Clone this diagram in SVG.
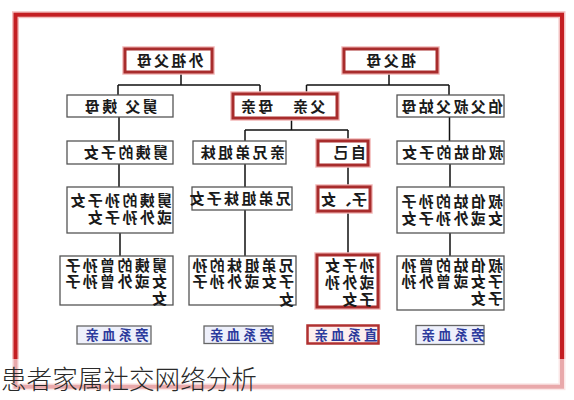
<svg xmlns="http://www.w3.org/2000/svg" width="574" height="400" viewBox="0 0 574 400">
<style>
.bx{fill:#fff;stroke:#555;stroke-width:1.3}
.rb{fill:#fff;stroke:#a82c2c;stroke-width:3}
.halo{fill:none;stroke:#f2b8b8;stroke-width:5.5}
.t{font-family:"Noto Sans CJK SC","Noto Sans CJK TC",sans-serif;font-size:15px;font-weight:bold;fill:#1a1a1a;letter-spacing:2.3px}
.c{text-anchor:middle}
.lb{fill:#eef0fb;stroke:#666;stroke-width:1.3}
.lt{font-family:"Noto Sans CJK SC",sans-serif;font-size:13.5px;font-weight:bold;fill:#2c3a9c;letter-spacing:3px;text-anchor:middle}
.ln{fill:none;stroke:#111;stroke-width:1.5}
</style>
<rect width="574" height="400" fill="#fff"/>
<rect x="15.5" y="14.7" width="546.5" height="372" fill="none" stroke="#f3c0c0" stroke-width="7"/>
<rect x="15.5" y="14.7" width="546.5" height="372" fill="none" stroke="#c41e22" stroke-width="4"/>

<g id="connectors">
<path class="ln" d="M181,72V85M118,85H260M118,85V95M260,85V94"/>
<path class="ln" d="M389,72V85M306.5,85H449M306.5,85V94M449,85V95"/>
<path class="ln" d="M291.5,118V130M245,130H348M245,130V141M348,130V141"/>
<path class="ln" d="M119,117V141M119,164V187M120,233V256"/>
<path class="ln" d="M245,164V187M245,210V256"/>
<path class="ln" d="M348,165V187M348,211V255"/>
<path class="ln" d="M449.5,117V141M450,164V187M450,233V256"/>
</g>

<g id="n-waizufumu">
<rect class="halo" x="125" y="49" width="87" height="23"/>
<rect class="rb" x="125" y="49" width="87" height="23"/>
<text class="t c" transform="translate(169,66.3) scale(-1,1)">外祖父母</text>
</g>
<g id="n-zufumu">
<rect class="halo" x="344" y="49" width="93" height="23"/>
<rect class="rb" x="344" y="49" width="93" height="23"/>
<text class="t c" transform="translate(390,66.3) scale(-1,1)">祖父母</text>
</g>

<g id="n-jiufu-yimu">
<rect class="bx" x="67" y="95" width="106" height="22"/>
<text class="t c" transform="translate(120,112) scale(-1,1)">舅父 姨母</text>
</g>
<g id="n-fuqin-muqin">
<rect class="halo" x="233" y="94" width="104" height="24"/>
<rect class="rb" x="233" y="94" width="104" height="24"/>
<text class="t c" transform="translate(282,112) scale(-1,1)">父亲　母亲</text>
</g>
<g id="n-bofu-shufu-gumu">
<rect class="bx" x="397" y="95" width="107" height="22"/>
<text class="t" transform="translate(503,112) scale(-1,1)">伯父叔父姑母</text>
</g>

<g id="n-jiuyi-zinv">
<rect class="bx" x="67" y="141" width="106" height="23"/>
<text class="t" transform="translate(168,158) scale(-1,1)">舅姨的子女</text>
</g>
<g id="n-xiongdi-jiemei">
<rect class="bx" x="193" y="141" width="93" height="23"/>
<text class="t" transform="translate(285,158) scale(-1,1)">亲兄弟姐妹</text>
</g>
<g id="n-ziji">
<rect class="halo" x="318" y="141" width="50" height="24"/>
<rect class="rb" x="318" y="141" width="50" height="24"/>
<text class="t" transform="translate(366,158) scale(-1,1)">自己</text>
</g>
<g id="n-shubogu-zinv">
<rect class="bx" x="397" y="141" width="107" height="23"/>
<text class="t" transform="translate(503.5,158) scale(-1,1)">叔伯姑的子女</text>
</g>

<g id="n-jiuyi-sunzinv">
<rect class="bx" x="67" y="187" width="106" height="46"/>
<text class="t" transform="translate(172,205.5) scale(-1,1)"><tspan x="0" y="0">舅姨的孙子女</tspan><tspan x="0" y="17.3">或外孙子女</tspan></text>
</g>
<g id="n-xiongdi-zinv">
<rect class="bx" x="192" y="187" width="100" height="23"/>
<text class="t" transform="translate(291,204) scale(-1,1)">兄弟姐妹子女</text>
</g>
<g id="n-zi-nv">
<rect class="halo" x="318" y="187" width="52" height="24"/>
<rect class="rb" x="318" y="187" width="52" height="24"/>
<text class="t" style="letter-spacing:0.5px" transform="translate(367,204.5) scale(-1,1)">子、女</text>
</g>
<g id="n-shubogu-sunzi">
<rect class="bx" x="397" y="187" width="107" height="46"/>
<text class="t" transform="translate(503,206.5) scale(-1,1)"><tspan x="0" y="0">叔伯姑的孙子</tspan><tspan x="0" y="17">女或外孙子女</tspan></text>
</g>

<g id="n-jiuyi-zengsun">
<rect class="bx" x="60" y="256" width="113" height="49"/>
<text class="t" transform="translate(167,271) scale(-1,1)"><tspan x="0" y="0">舅姨的曾孙子</tspan><tspan x="0" y="16.3">女或外曾孙子</tspan><tspan x="0" y="32.6">女</tspan></text>
</g>
<g id="n-xiongdi-sun">
<rect class="bx" x="189" y="256" width="107" height="49"/>
<text class="t" transform="translate(294,270.5) scale(-1,1)"><tspan x="0" y="0">兄弟姐妹的孙</tspan><tspan x="0" y="16.5">子女或外孙子</tspan><tspan x="0" y="34">女</tspan></text>
</g>
<g id="n-sunzinv">
<rect class="halo" x="317" y="255" width="61" height="52"/>
<rect class="rb" x="317" y="255" width="61" height="52"/>
<text class="t" transform="translate(374.5,270.5) scale(-1,1)"><tspan x="0" y="0">孙子女</tspan><tspan x="0" y="17.5">或外孙</tspan><tspan x="0" y="34.5">子女</tspan></text>
</g>
<g id="n-shubogu-zengsun">
<rect class="bx" x="397" y="256" width="107" height="54"/>
<text class="t" transform="translate(503,270.5) scale(-1,1)"><tspan x="0" y="0">叔伯姑的曾孙</tspan><tspan x="0" y="16.5">子女或曾外孙</tspan><tspan x="0" y="33">子女</tspan></text>
</g>

<g id="l-pangxi-1">
<rect class="lb" x="77" y="326" width="74" height="18"/>
<text class="lt" transform="translate(115.5,339.8) scale(-1,1)">旁系血亲</text>
</g>
<g id="l-pangxi-2">
<rect class="lb" x="204" y="326" width="69" height="17.5"/>
<text class="lt" transform="translate(240,339.5) scale(-1,1)">旁系血亲</text>
</g>
<g id="l-zhixi">
<rect x="307.5" y="325.5" width="71" height="18" fill="#fdeeee" stroke="#b03030" stroke-width="2.5"/>
<text class="lt" transform="translate(344.5,339.5) scale(-1,1)">直系血亲</text>
</g>
<g id="l-pangxi-3">
<rect class="lb" x="416" y="325.5" width="68" height="19"/>
<text class="lt" transform="translate(451.5,339.8) scale(-1,1)">旁系血亲</text>
</g>

<rect x="0" y="359" width="574" height="34" fill="#fff" opacity="0.62"/>
<text x="1" y="389" font-family="'Noto Sans CJK SC',sans-serif" font-size="25.6" font-weight="300" fill="#2a2a2a">患者家属社交网络分析</text>
</svg>
